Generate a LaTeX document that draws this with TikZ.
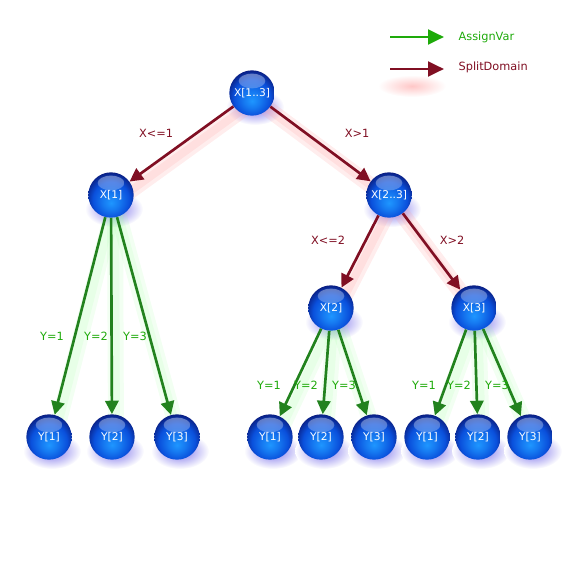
\documentclass[tikz,border=0pt]{standalone}
\usepackage{fontspec}
\setmainfont{DejaVu Sans}
\usetikzlibrary{arrows.meta}
\definecolor{ballbright}{RGB}{30,150,255}
\definecolor{ballmid}{RGB}{10,80,220}
\definecolor{balldark}{RGB}{10,25,120}
\definecolor{assigngreen}{RGB}{34,130,30}
\definecolor{legendgreen}{RGB}{30,170,10}
\definecolor{splitred}{RGB}{128,15,35}
\definecolor{shadowblue}{RGB}{125,115,235}
\pgfdeclareradialshading{glassball}{\pgfpoint{0bp}{-9bp}}{%
  color(0bp)=(ballbright); color(9bp)=(ballbright!60!ballmid);
  color(20bp)=(ballmid); color(30bp)=(balldark); color(50bp)=(balldark)}
\pgfdeclarelayer{back}
\pgfsetlayers{back,main}

\begin{document}
\begin{tikzpicture}[x=0.75pt, y=-0.75pt,
    ball/.style={circle, minimum size=34pt, inner sep=0pt, shading=glassball,
      text=white, font=\fontsize{8}{10}\selectfont,
      path picture={
        \shade[top color=white, bottom color=ballmid, opacity=0.4]
          ([yshift=9pt]path picture bounding box.center) ellipse [x radius=10pt, y radius=5.5pt];
      }},
    lbl/.style={font=\fontsize{8.5}{10}\selectfont, inner sep=1pt},
    assign/.style={draw=assigngreen, line width=2pt, -{Triangle[width=10pt,length=10pt]}},
    split/.style={draw=splitred, line width=2pt, -{Triangle[width=10pt,length=10pt]}},
    assignglow/.style={draw=green!35!white, line width=12pt, opacity=0.15, line cap=round},
    splitglow/.style={draw=red!35!white, line width=12pt, opacity=0.2, line cap=round}]
  \useasboundingbox (0,0) rectangle (580,580);

  % the search tree
  \node[ball] (x13) at (252,93) {X[1..3]};
  \node[ball] (x1) at (111,195) {X[1]};
  \node[ball] (x23) at (389,195) {X[2..3]};
  \node[ball] (x2) at (331,308) {X[2]};
  \node[ball] (x3) at (474,308) {X[3]};
  \foreach \X [count=\i] in {49, 112, 177, 270, 321, 374, 427, 478, 530} {
    \pgfmathtruncatemacro{\k}{mod(\i-1,3)+1}
    \node[ball] (y\i) at (\X, 437) {Y[\k]};
  }

  % soft shadows and glows
  \begin{pgfonlayer}{back}
    \foreach \n in {x13, x1, x23, x2, x3, y1, y2, y3, y4, y5, y6, y7, y8, y9} {
      \shade[inner color=shadowblue, outer color=white] ([shift={(3,14)}]\n.center) ellipse (29 and 18);
    }
    \foreach \a/\b in {x13/x1, x13/x23, x23/x2, x23/x3} {
      \draw[splitglow] ([shift={(4,7)}]\a.center) -- ([shift={(4,7)}]\b.center);
      \draw[splitglow, line width=6pt] ([shift={(4,7)}]\a.center) -- ([shift={(4,7)}]\b.center);
    }
    \foreach \a/\b in {x1/y1, x1/y2, x1/y3, x2/y4, x2/y5, x2/y6, x3/y7, x3/y8, x3/y9} {
      \draw[assignglow] ([shift={(4,7)}]\a.center) -- ([shift={(4,7)}]\b.center);
      \draw[assignglow, line width=6pt] ([shift={(4,7)}]\a.center) -- ([shift={(4,7)}]\b.center);
    }
    \shade[inner color=red!22, outer color=white] (412,86) ellipse (34 and 11);
  \end{pgfonlayer}

  % split edges
  \draw[split] (x13) -- (x1);
  \draw[split] (x13) -- (x23);
  \draw[split] (x23) -- (x2);
  \draw[split] (x23) -- (x3);
  \node[lbl, text=splitred] (l1) at (156,133) {X<=1};
  \node[lbl, text=splitred] (l2) at (357,133) {X>1};
  \node[lbl, text=splitred] (l3) at (328,240) {X<=2};
  \node[lbl, text=splitred] (l4) at (452,240) {X>2};

  % assign edges
  \foreach \a/\b in {x1/y1, x1/y2, x1/y3, x2/y4, x2/y5, x2/y6, x3/y7, x3/y8, x3/y9} {
    \draw[assign] (\a) -- (\b);
  }
  \foreach \X/\Y/\k [count=\i] in {52/336/1, 96/336/2, 135/336/3,
      269/385/1, 306/385/2, 344/385/3, 424/385/1, 459/385/2, 497/385/3} {
    \node[lbl, text=legendgreen] (v\i) at (\X,\Y) {Y=\k};
  }

  % legend
  \coordinate (ga) at (390,37);
  \coordinate (gb) at (444,37);
  \coordinate (sa) at (390,69);
  \coordinate (sb) at (444,69);
  \draw[legendgreen, line width=2.2pt, -{Triangle[width=11pt,length=12pt]}] (ga) -- (gb);
  \draw[splitred, line width=2.2pt, -{Triangle[width=11pt,length=12pt]}] (sa) -- (sb);
  \node[lbl, anchor=west, text=legendgreen] (tassign) at (457,37) {AssignVar};
  \node[lbl, anchor=west, text=splitred] (tsplit) at (457,67) {SplitDomain};
\end{tikzpicture}
\end{document}
